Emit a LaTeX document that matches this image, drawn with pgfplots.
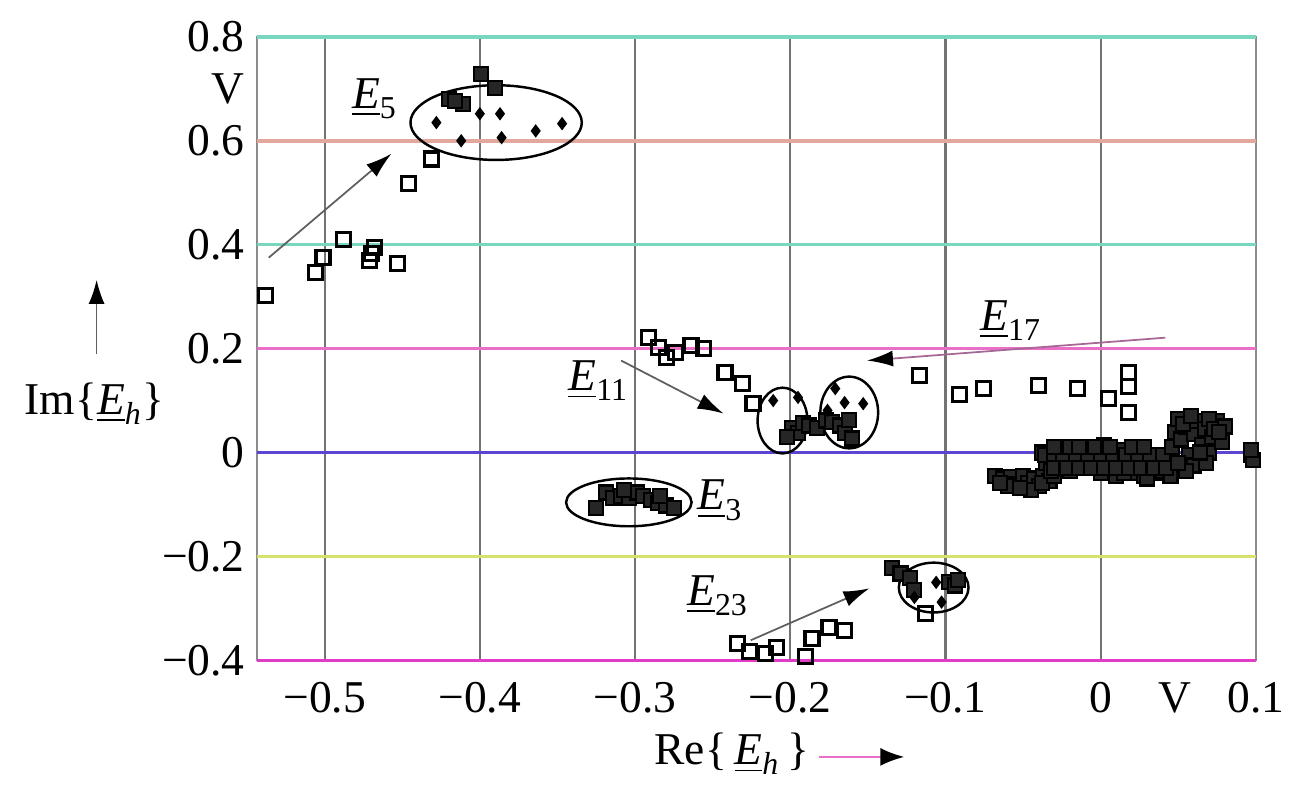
\documentclass[border=0pt]{standalone}
\usepackage{fontspec}
\setmainfont{Liberation Serif}
\usepackage{amsmath}
\usepackage{pgfplots}
\pgfplotsset{compat=1.18}
\usetikzlibrary{arrows.meta}

\definecolor{gteal}{RGB}{120,215,190}
\definecolor{gpink}{RGB}{235,110,200}
\definecolor{gmag}{RGB}{225,60,200}
\definecolor{gblue}{RGB}{90,70,210}
\definecolor{gyel}{RGB}{215,225,110}
\definecolor{garrow}{RGB}{95,95,95}

\newcommand{\Eu}[1]{$\underline{\textit{E}}_{\text{#1}}$}
\newcommand{\fnt}{\fontsize{13}{15}\selectfont}

\begin{document}
\begin{tikzpicture}
\path (-25.8mm,-12.3mm) rectangle (103.8mm,66.3mm);
\begin{axis}[
  scale only axis,
  width=100.3mm, height=62.6mm,
  xmin=-0.5436, xmax=0.1,
  ymin=-0.4, ymax=0.8,
  clip=false,
  xtick={-0.5,-0.4,-0.3,-0.2,-0.1,0,0.1},
  xticklabels={−0.5,−0.4,−0.3,−0.2,−0.1,0,0.1},
  ytick={-0.4,-0.2,0,0.2,0.4,0.6,0.8},
  yticklabels={−0.4,−0.2,0,0.2,0.4,0.6,0.8},
  extra x ticks={0.048}, extra x tick labels={V},
  extra y ticks={0.70}, extra y tick labels={V},
  extra x tick style={grid=none},
  extra y tick style={grid=none},
  tick style={draw=none},
  ticklabel style={font=\fnt},
  xticklabel style={yshift=-1mm},
  xmajorgrids=true,
  grid style={black!55, line width=0.6pt},
  axis line style={black!45, line width=0.6pt},
]
% horizontal grid lines, scan colours
\addplot[gteal, line width=1pt] coordinates {(-0.5436,0.8)(0.1,0.8)};
\addplot[gpink!50!gyel, line width=1pt] coordinates {(-0.5436,0.6)(0.1,0.6)};
\addplot[gteal, line width=1pt] coordinates {(-0.5436,0.4)(0.1,0.4)};
\addplot[gpink, line width=1pt] coordinates {(-0.5436,0.2)(0.1,0.2)};
\addplot[gblue, line width=1pt] coordinates {(-0.5436,0)(0.1,0)};
\addplot[gyel, line width=1pt] coordinates {(-0.5436,-0.2)(0.1,-0.2)};
\addplot[gmag, line width=1pt] coordinates {(-0.5436,-0.4)(0.1,-0.4)};

% open squares
\addplot[only marks, mark=square, mark size=2pt, mark options={line width=0.9pt, black}] coordinates {
(-0.538,0.302)(-0.506,0.346)(-0.501,0.375)(-0.488,0.410)(-0.471,0.369)
(-0.470,0.383)(-0.468,0.394)(-0.453,0.363)(-0.446,0.517)(-0.431,0.565)
(-0.2915,0.221)(-0.285,0.202)(-0.280,0.183)(-0.274,0.192)(-0.264,0.206)
(-0.256,0.200)(-0.242,0.154)(-0.231,0.133)(-0.224,0.094)(-0.117,0.148)
(-0.091,0.1115)(-0.0756,0.123)(-0.040,0.129)(-0.0147,0.123)(0.005,0.104)
(0.018,0.154)(0.018,0.127)(0.018,0.077)
(-0.234,-0.367)(-0.226,-0.383)(-0.216,-0.387)(-0.209,-0.375)(-0.190,-0.392)
(-0.186,-0.358)(-0.175,-0.337)(-0.165,-0.342)(-0.113,-0.310)
};

% filled squares
\addplot[only marks, mark=square*, mark size=2pt, mark options={line width=0.6pt, black, fill=black!85}] coordinates {
(-0.399,0.729)(-0.390,0.702)(-0.420,0.681)(-0.411,0.671)(-0.416,0.676)
(-0.1986,0.048)(-0.195,0.037)(-0.192,0.056)(-0.188,0.052)(-0.183,0.048)
(-0.177,0.0615)(-0.173,0.058)(-0.168,0.052)(-0.165,0.038)(-0.162,0.062)
(-0.160,0.027)(-0.202,0.029)
(-0.325,-0.106)(-0.319,-0.077)(-0.314,-0.087)(-0.309,-0.083)(-0.304,-0.088)
(-0.299,-0.077)(-0.295,-0.083)(-0.290,-0.092)(-0.285,-0.098)(-0.280,-0.102)
(-0.275,-0.106)(-0.284,-0.083)(-0.307,-0.073)
(-0.1345,-0.223)(-0.129,-0.233)(-0.123,-0.242)(-0.120,-0.265)(-0.098,-0.250)
(-0.094,-0.256)(-0.092,-0.246)
(-0.068,-0.045)(-0.063,-0.050)(-0.058,-0.048)(-0.055,-0.060)(-0.050,-0.045)
(-0.047,-0.058)(-0.043,-0.050)(-0.040,-0.065)(-0.037,-0.045)(-0.033,-0.055)
(-0.060,-0.065)(-0.045,-0.072)(-0.065,-0.058)(-0.052,-0.068)(-0.038,-0.058)
(-0.030,-0.045)
(-0.038,0.000)(-0.035,-0.020)(-0.030,-0.010)(-0.028,0.005)(-0.025,-0.025)
(-0.022,-0.010)(-0.018,0.000)(-0.015,-0.020)(-0.012,-0.030)(-0.010,0.010)
(-0.007,-0.015)(-0.004,0.000)(-0.001,-0.025)(0.002,0.015)(0.004,-0.005)
(0.007,-0.030)(0.010,0.000)(0.012,-0.020)(0.015,0.005)(0.018,-0.035)
(0.020,-0.010)(0.023,-0.040)(0.026,-0.020)(0.028,-0.045)(0.031,-0.025)
(0.034,-0.040)(0.037,-0.015)(0.040,-0.035)(0.043,-0.020)(-0.020,-0.035)
(0.000,-0.040)(0.010,-0.045)(0.030,-0.050)(0.045,-0.045)(-0.032,-0.035)
(0.015,-0.040)
(-0.036,-0.005)(-0.030,-0.005)(-0.024,-0.005)(-0.016,-0.005)(-0.008,-0.005)
(0.000,-0.005)(0.008,-0.005)(0.016,-0.005)(0.024,-0.005)(0.032,-0.005)(0.040,-0.005)
(-0.030,-0.030)(-0.022,-0.030)(-0.014,-0.030)(-0.006,-0.030)(0.002,-0.030)
(0.010,-0.030)(0.018,-0.030)(0.026,-0.030)(0.034,-0.030)(0.042,-0.030)
(-0.030,0.010)(-0.020,0.010)(-0.014,0.010)(-0.004,0.010)(0.006,0.010)
(0.020,0.010)(0.028,0.010)
(0.046,0.010)(0.048,0.040)(0.050,0.065)(0.052,0.025)(0.055,0.050)
(0.057,-0.005)(0.060,0.035)(0.062,0.060)(0.065,0.015)(0.067,0.045)
(0.070,0.000)(0.072,0.030)(0.075,0.060)(0.078,0.020)(0.060,-0.025)
(0.055,-0.035)(0.068,-0.020)(0.050,-0.020)
(0.053,0.055)(0.058,0.070)(0.070,0.065)(0.073,0.045)(0.064,0.000)
(0.080,0.050)(0.076,0.040)
(0.097,-0.005)(0.098,-0.015)(0.097,0.005)
};

% small dots
\addplot[only marks, mark=diamond*, mark size=1.6pt, mark options={black}] coordinates {
(-0.428,0.635)(-0.400,0.652)(-0.387,0.652)(-0.412,0.600)(-0.386,0.606)
(-0.364,0.619)(-0.347,0.633)
(-0.211,0.100)(-0.195,0.106)(-0.171,0.123)(-0.165,0.096)(-0.153,0.094)(-0.176,0.081)
(-0.1025,-0.288)(-0.106,-0.250)(-0.120,-0.279)
};

% ellipses
\draw[black, line width=0.7pt] (axis cs:-0.3895,0.635) ellipse [x radius=8.6mm, y radius=3.75mm];
\draw[black, line width=0.7pt] (axis cs:-0.205,0.0615) ellipse [x radius=2.5mm, y radius=3.3mm];
\draw[black, line width=0.7pt] (axis cs:-0.162,0.077) ellipse [x radius=2.9mm, y radius=3.6mm];
\draw[black, line width=0.7pt] (axis cs:-0.304,-0.096) ellipse [x radius=6.3mm, y radius=2.4mm];
\draw[black, line width=0.7pt] (axis cs:-0.1076,-0.26) ellipse [x radius=3.5mm, y radius=2.5mm];

% arrows
\draw[garrow, line width=0.5pt, -{Latex[length=2.6mm, width=1.6mm, black]}] (axis cs:-0.536,0.375) -- (axis cs:-0.457,0.575);
\draw[garrow, line width=0.5pt, -{Latex[length=2.6mm, width=1.6mm, black]}] (axis cs:-0.309,0.177) -- (axis cs:-0.243,0.075);
\draw[gpink!50!garrow, line width=0.5pt, -{Latex[length=2.6mm, width=1.6mm, black]}] (axis cs:0.0416,0.221) -- (axis cs:-0.1505,0.177);
\draw[garrow, line width=0.5pt, -{Latex[length=2.6mm, width=1.6mm, black]}] (axis cs:-0.2255,-0.3615) -- (axis cs:-0.149,-0.2615);

% labels
\node[font=\fnt] at (axis cs:-0.4677,0.681) {\Eu{5}};
\node[font=\fnt] at (axis cs:-0.3235,0.138) {\Eu{11}};
\node[font=\fnt] at (axis cs:-0.245,-0.092) {\Eu{3}};
\node[font=\fnt] at (axis cs:-0.0577,0.254) {\Eu{17}};
\node[font=\fnt] at (axis cs:-0.2466,-0.275) {\Eu{23}};
\end{axis}

% axis titles with arrows
\node[font=\fnt] at (-16.3mm,25.8mm) {Im\{$\underline{\textit{E}}_{\textit{h}}$\}};
\draw[garrow, line width=0.5pt, -{Latex[length=2.4mm, width=1.6mm, black]}] (-16.1mm,30.8mm) -- (-16.1mm,38.2mm);
\node[font=\fnt] at (47.7mm,-9.4mm) {Re\{\,$\underline{\textit{E}}_{\textit{h}}$\,\}};
\draw[gpink, line width=0.6pt, -{Latex[length=2.4mm, width=1.8mm, black]}] (56.4mm,-9.7mm) -- (65mm,-9.7mm);
\end{tikzpicture}
\end{document}
